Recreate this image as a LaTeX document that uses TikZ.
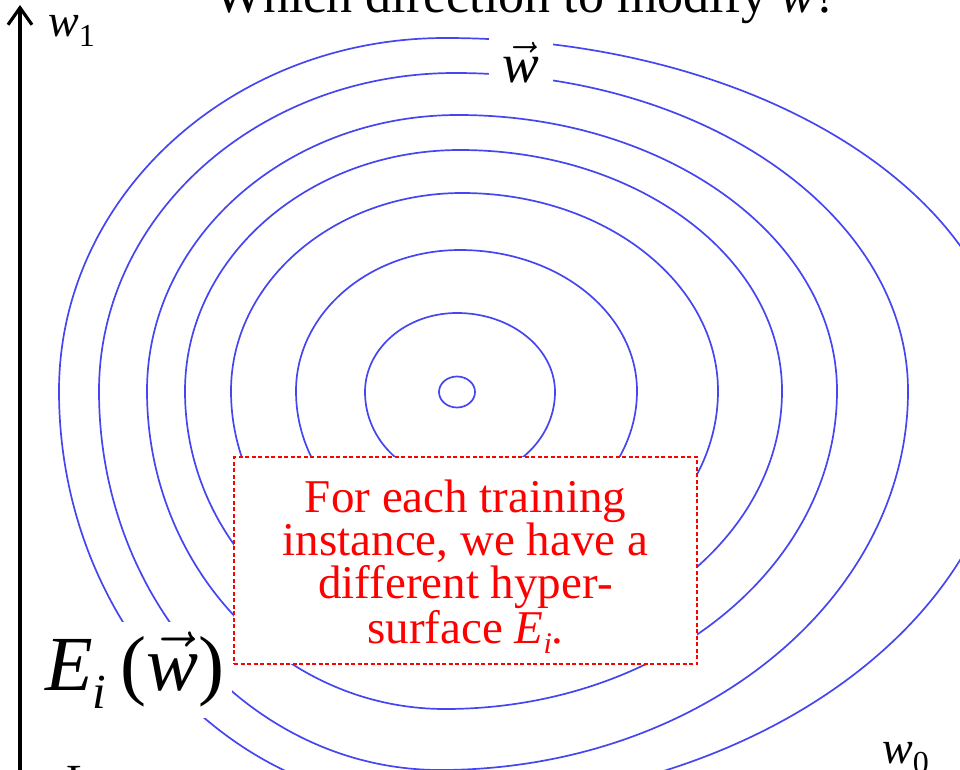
\RequirePackage{fix-cm}
\documentclass[tikz,border=0pt]{standalone}
\usepackage{fontspec}
\setmainfont{Liberation Serif}
\usetikzlibrary{arrows.meta}
\definecolor{ringblue}{RGB}{70,70,240}
\definecolor{boxred}{RGB}{255,0,0}
% L R T B xtop xbottom cy  (image pixel coordinates)
\newcommand{\contourring}[7]{%
  \draw[contour] (#2,#7)
    arc[start angle=0,end angle=90,x radius={#2-#6},y radius={#4-#7}]
    arc[start angle=90,end angle=180,x radius={#6-#1},y radius={#4-#7}]
    arc[start angle=180,end angle=270,x radius={#5-#1},y radius={#7-#3}]
    arc[start angle=270,end angle=360,x radius={#2-#5},y radius={#7-#3}] -- cycle;}
\begin{document}
\begin{tikzpicture}[x=1pt,y=-1pt,
  contour/.style={ringblue, line width=1.7pt},
  axisline/.style={line width=3.5pt, -{Straight Barb[length=17pt,width=24pt,line width=3.2pt]}},
  lbl/.style={inner sep=0pt, text=black},
  redtext/.style={text=boxred, font=\fontsize{47}{47}\selectfont, inner sep=0pt, anchor=base},
  notebox/.style={draw=boxred, dash pattern=on 4pt off 2.5pt, line width=1.4pt, fill=white, inner sep=0pt, minimum width=463pt, minimum height=207pt}]
\useasboundingbox (0,0) rectangle (960,770);
% contour lines
\contourring{439}{475}{376.5}{407.5}{457}{457}{392}
\contourring{365}{555}{313}{480}{457}{457}{392}
\contourring{296}{637}{250}{545}{460}{455}{391}
\contourring{231}{718}{193}{605}{462}{452}{391}
\contourring{185}{782}{150}{655}{460}{448}{391}
\contourring{147}{837}{115}{709}{458}{445}{391}
\contourring{99}{908}{73}{770}{455}{440}{391}
\contourring{59}{1010}{38}{805}{445}{435}{391}
% title (cut at top)
\node[lbl, anchor=base west, font=\fontsize{52}{52}\selectfont] (title) at (214,13) {Which direction to modify $\vec{\textit{w}}$?};
% axis
\coordinate (axbot) at (20,780);
\coordinate (axtop) at (20,5);
\draw[axisline] (axbot) -- (axtop);
\node[lbl, anchor=base west, font=\fontsize{46}{46}\selectfont] (w1) at (48,37) {\textit{w}\raisebox{-10pt}{\fontsize{32}{32}\selectfont 1}};
\node[lbl, anchor=base west, font=\fontsize{46}{46}\selectfont] (w0) at (882,763) {\textit{w}\raisebox{-10pt}{\fontsize{32}{32}\selectfont 0}};
% vector label on the contours
\node[lbl, fill=white, inner xsep=14pt, inner ysep=8pt, anchor=base, font=\fontsize{55}{55}\selectfont] (wvec) at (521,83) {$\vec{\textit{w}}$};
% error surface label
\node[lbl, fill=white, inner xsep=8pt, inner ysep=10pt, anchor=base west, font=\fontsize{78}{78}\selectfont] (elabel) at (37,690) {\textit{E}\raisebox{-18pt}{\fontsize{49}{49}\selectfont\textit{i}}\kern14pt($\vec{\textit{w}}$)};
% note box
\node[notebox] (box) at (465.5,560.5) {};
\node[redtext] (t1) at (465.5,512) {For each training};
\node[redtext] (t2) at (465.5,555) {instance, we have a};
\node[redtext] (t3) at (465.5,598) {different hyper-};
\node[redtext] (t4) at (465.5,643) {surface \textit{E}\raisebox{-10pt}{\fontsize{30}{30}\selectfont\textit{i}}.};
% cut text at bottom
\node[lbl, anchor=base west, font=\fontsize{46}{46}\selectfont] (bottomtext) at (66,796) {L};
\end{tikzpicture}
\end{document}
